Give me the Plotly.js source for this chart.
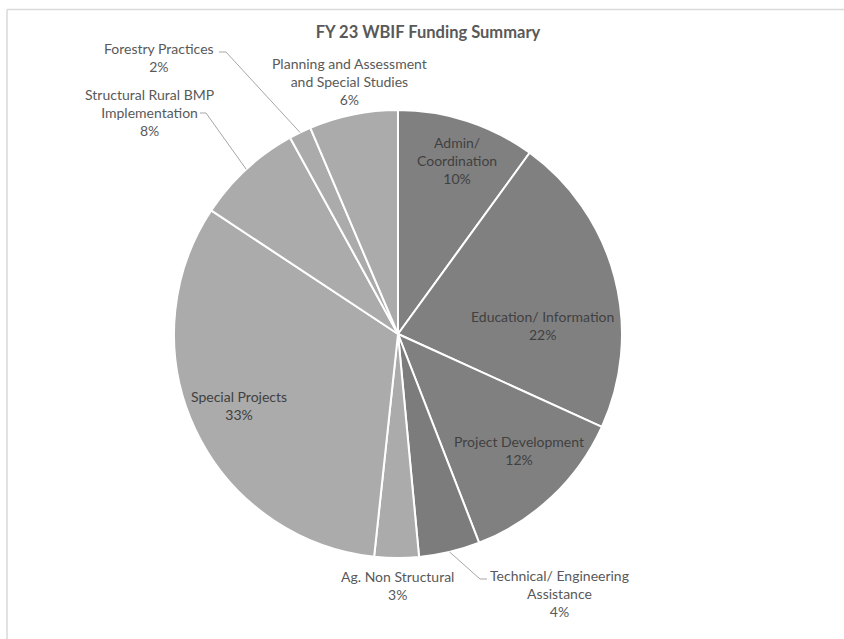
<!DOCTYPE html>
<html>
<head>
<meta charset="utf-8">
<script src="https://cdn.plot.ly/plotly-3.0.1.min.js"></script>
<style>
html,body{margin:0;padding:0;background:#fff;}
#chart{width:844px;height:639px;}
</style>
</head>
<body>
<div id="chart"></div>
<script>
// ---- data ----
var categories = ["Admin/ Coordination", "Education/ Information", "Project Development",
  "Technical/ Engineering Assistance", "Ag. Non Structural", "Special Projects",
  "Structural Rural BMP Implementation", "Forestry Practices", "Planning and Assessment and Special Studies"];
var labelText = ["Admin/<br>Coordination", "Education/ Information", "Project Development",
  "Technical/ Engineering<br>Assistance", "Ag. Non Structural", "Special Projects",
  "Structural Rural BMP<br>Implementation", "Forestry Practices", "Planning and Assessment<br>and Special Studies"];
var shares = [10.0, 21.8, 12.3, 4.4, 3.2, 32.6, 7.7, 1.6, 6.4];
var sliceColors = ["#808080", "#808080", "#808080", "#7c7c7c", "#ababab", "#ababab", "#ababab", "#ababab", "#ababab"];
var chartTitle = "FY 23 WBIF Funding Summary";

// ---- layout helpers (pixel -> paper) ----
var W = 844, H = 639;
function px(x){ return x / W; }
function py(y){ return 1 - y / H; }
var cx = 398, cy = 334, R = 224;

// label placement (pixel centers) and text colors
var labelPos = [[457,160.5],[542,325],[519,450.5],[559,593],[397,585.5],[239,405],[149,112.5],[159,58],[349,81.5]];
var labelColor = ["#404040","#404040","#404040","#595959","#595959","#404040","#595959","#595959","#595959"];
// leader lines: index -> [start x, start y, elbow x]
var leaders = {3:[487,579,480], 6:[200,113,206], 7:[219,52,226]};

var total = shares.reduce(function(a,b){return a+b;},0);
var annotations = [];
for (var i = 0; i < categories.length; i++) {
  var pct = Math.round(shares[i] / total * 100);
  annotations.push({
    xref:'paper', yref:'paper', x:px(labelPos[i][0]), y:py(labelPos[i][1]),
    xanchor:'center', yanchor:'middle', showarrow:false, align:'center',
    text: labelText[i] + '<br>' + pct + '%',
    font:{family:'Lato, "Open Sans", sans-serif', size:14, color:labelColor[i]}
  });
}

var shapes = [
  {type:'line', xref:'paper', yref:'paper', x0:px(7), x1:px(7), y0:0, y1:py(9.5), line:{color:'#d9d9d9', width:1.5}},
  {type:'line', xref:'paper', yref:'paper', x0:px(7), x1:1, y0:py(9.5), y1:py(9.5), line:{color:'#d9d9d9', width:1.5}}
];
var cum = 0;
for (var j = 0; j < shares.length; j++) {
  var mid = (cum + shares[j] / 2) / total * 2 * Math.PI;
  cum += shares[j];
  if (leaders[j]) {
    var ex = cx + R * Math.sin(mid), ey = cy - R * Math.cos(mid);
    var L = leaders[j];
    shapes.push({type:'path', xref:'paper', yref:'paper',
      path:'M ' + px(L[0]) + ',' + py(L[1]) + ' L ' + px(L[2]) + ',' + py(L[1]) + ' L ' + px(ex) + ',' + py(ey),
      line:{color:'#a6a6a6', width:1}});
  }
}

var trace = {
  type:'pie', labels:categories, values:shares, sort:false, direction:'clockwise', rotation:0,
  marker:{colors:sliceColors, line:{color:'#ffffff', width:2}},
  textinfo:'none', hoverinfo:'label+percent', showlegend:false,
  domain:{x:[px(cx-R), px(cx+R)], y:[py(cy+R), py(cy-R)]}
};

var layout = {
  width:W, height:H, margin:{l:0,r:0,t:0,b:0},
  paper_bgcolor:'#ffffff', plot_bgcolor:'#ffffff', showlegend:false,
  title:{text:'<b>' + chartTitle + '</b>', x:px(428), xanchor:'center', y:py(32), yanchor:'middle',
    font:{family:'Lato, "Open Sans", sans-serif', size:16.5, color:'#595959'}},
  annotations:annotations, shapes:shapes
};
Plotly.newPlot('chart', [trace], layout, {displayModeBar:false, staticPlot:true});
</script>
</body>
</html>
